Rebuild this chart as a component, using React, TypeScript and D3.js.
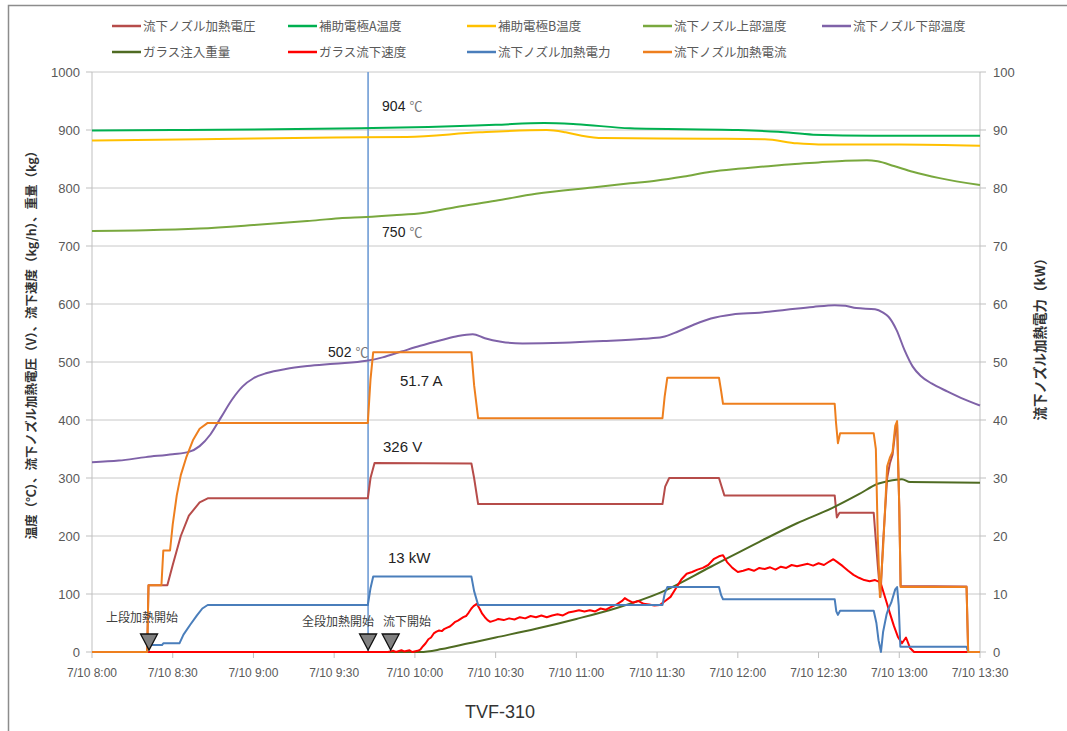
import React from "react";
import * as d3 from "d3";

// ---- data (minutes after 7/10 8:00, value) ----
const timeTickLabels = ["7/10 8:00", "7/10 8:30", "7/10 9:00", "7/10 9:30", "7/10 10:00", "7/10 10:30", "7/10 11:00", "7/10 11:30", "7/10 12:00", "7/10 12:30", "7/10 13:00", "7/10 13:30"];
const leftTicks = [0, 100, 200, 300, 400, 500, 600, 700, 800, 900, 1000];
const rightTicks = [0, 10, 20, 30, 40, 50, 60, 70, 80, 90, 100];

const voltage: [number, number][] = [[0,0],[20.5,0],[21,115],[28,115],[30,150],[33,200],[36,235],[40,258],[43,265],[102.5,265],[103.5,300],[105,326],[141,325],[142,300],[143.5,255],[212,255],[213,285],[214.5,300],[233,300],[234,285],[235,270],[276,270],[276.8,232],[277.8,240],[290.5,240],[292,150],[293,95],[294,190],[295.5,300],[296.5,325],[297.5,340],[298.5,380],[299.2,392],[300,250],[300.5,114],[325,113],[325.6,0],[330,0]];
const electrodeA: [number, number][] = [[0,899],[30,900],[60,901],[100,903],[125,905],[150,909],[168,912],[180,910],[200,903],[240,900],[255,897],[268,892],[290,890],[330,890]];
const electrodeB: [number, number][] = [[0,882],[40,884],[90,887],[117,888],[144,896],[169,900],[176,896],[182,890],[190,886],[230,885],[250,884],[262,877],[270,875],[300,875],[330,873]];
const upperTemp: [number, number][] = [[0,726],[20,727],[40,730],[60,736],[80,743],[92,748],[102,750],[112,753],[123,757],[135,767],[150,778],[165,790],[186,801],[200,808],[210,813],[220,820],[230,828],[240,833],[250,837],[260,841],[270,844],[280,847],[288,848],[292,846],[298,838],[305,828],[315,817],[330,805]];
const lowerTemp: [number, number][] = [[0,327],[10,330],[20,336],[30,341],[36,345],[40,355],[44,375],[48,405],[52,435],[56,458],[60,472],[65,481],[72,488],[80,493],[90,497],[102,502],[108,508],[115,518],[122,528],[130,538],[136,545],[141.5,548],[146,541],[152,535],[160,532],[175,533],[190,536],[205,540],[212,543],[218,553],[224,565],[230,575],[238,582],[248,585],[258,590],[268,595],[276,598],[280,597],[284,593],[291,591],[294,585],[296,578],[299,555],[302,520],[305,492],[308,476],[312,463],[318,449],[324,436],[330,425]];
const glassWeight: [number, number][] = [[0,0],[122,0],[130,5],[140,15],[150,25],[165,40],[180,57],[195,76],[211,102],[230,147],[248,190],[262,222],[275,248],[285,272],[292,290],[296,295],[301,298],[304,293],[330,292]];
const glassSpeed: [number, number][] = [[0,0],[110,0],[112,2],[113,0],[115,3],[116,1],[118,3],[119,0],[121,2],[122,4],[123,10],[124,15],[125,22],[126,25],[127,32],[128,35],[129,37],[130,36],[131,40],[132,42],[133,44],[134,48],[135,52],[136,54],[137,57],[138,60],[139,62],[140,68],[141,75],[141.8,79],[143,83],[144,75],[145,66],[146,60],[147,55],[148,52],[150,55],[151,57],[153,55],[155,58],[157,56],[159,60],[161,58],[163,62],[165,60],[167,63],[169,60],[171,63],[173,65],[175,63],[177,68],[179,70],[181,72],[183,70],[185,72],[187,70],[189,75],[191,73],[193,78],[195,82],[197,88],[198,93],[199,90],[201,85],[203,88],[205,83],[207,82],[209,80],[211,81],[213,88],[215,95],[217,110],[219,125],[221,135],[223,138],[225,142],[227,145],[229,150],[231,160],[233,165],[234.5,167],[236,155],[238,145],[240,138],[242,140],[244,143],[246,140],[248,145],[250,143],[252,146],[254,142],[256,147],[258,145],[260,150],[262,148],[264,150],[266,152],[268,149],[270,153],[272,150],[274,156],[275.5,160],[277,155],[279,148],[281,140],[283,133],[285,128],[287,124],[289,122],[291,124],[293,120],[295,90],[296.5,67],[298,45],[299.5,26],[301,15],[302.5,25],[304,7],[305.5,0],[330,0]];
const heaterPower: [number, number][] = [[0,0],[20.5,0],[21,1.2],[26,1.2],[26.5,1.5],[32.5,1.5],[34,3],[36.5,4.7],[39,6.3],[41,7.5],[43,8.1],[102.5,8.1],[103.5,11],[104.5,13],[141,13],[142,10.5],[143.5,8.1],[212,8.1],[212.8,10],[213.8,11.2],[233,11.2],[233.8,9.8],[234.5,9.1],[276,9.1],[276.6,7],[277.2,6.4],[278,7.1],[290.5,7.1],[291.5,5],[292.3,2],[293.2,0],[294,3.5],[295.3,6.5],[296,7.5],[297,8.5],[298.5,10.8],[299.2,11.2],[299.8,8],[300.4,0.9],[325,0.9],[325.6,0],[330,0]];
const heaterCurrent: [number, number][] = [[0,0],[20.5,0],[21,115],[25.8,115],[26.5,175],[29,175],[30,220],[31.5,270],[33,305],[35,335],[37.5,365],[40,385],[43,395],[102.5,395],[103.5,470],[104.5,517],[141,517],[142,460],[143.5,403],[212,403],[212.8,440],[213.8,473],[233,473],[233.8,450],[234.5,428],[276,428],[276.5,395],[277.2,360],[278,377],[290.5,377],[291.3,350],[292,200],[292.8,95],[294,180],[295.5,320],[296.5,335],[297.5,345],[298.5,390],[299.2,398],[300,250],[300.5,112],[325,112],[325.6,0],[330,0]];

const legendNames = ["流下ノズル加熱電圧", "補助電極A温度", "補助電極B温度", "流下ノズル上部温度", "流下ノズル下部温度", "ガラス注入重量", "ガラス流下速度", "流下ノズル加熱電力", "流下ノズル加熱電流"];
const markerTimes = [21.2, 102.6, 111];
const markerLabels = ["上段加熱開始", "全段加熱開始", "流下開始"];
const cursorTime = 102.6;

const COLORS = ["#B64C4A", "#00B050", "#FFC000", "#79A83E", "#7F62A8", "#4F6B22", "#FF0000", "#4A7EBB", "#EE7F1E"];

const W = 1067, H = 731;
const PL = 92, PR = 980, PT = 72, PB = 652;

export default function App() {
  const x = d3.scaleLinear().domain([0, 330]).range([PL, PR]);
  const yL = d3.scaleLinear().domain([0, 1000]).range([PB, PT]);
  const yR = d3.scaleLinear().domain([0, 100]).range([PB, PT]);
  const lin = (ys: d3.ScaleLinear<number, number>) => d3.line<[number, number]>().x(d => x(d[0])).y(d => ys(d[1]));
  const smooth = (ys: d3.ScaleLinear<number, number>) => d3.line<[number, number]>().x(d => x(d[0])).y(d => ys(d[1])).curve(d3.curveMonotoneX);

  const series = [
    { d: lin(yL)(voltage), c: COLORS[0] },
    { d: smooth(yL)(electrodeA), c: COLORS[1] },
    { d: smooth(yL)(electrodeB), c: COLORS[2] },
    { d: smooth(yL)(upperTemp), c: COLORS[3] },
    { d: smooth(yL)(lowerTemp), c: COLORS[4] },
    { d: smooth(yL)(glassWeight), c: COLORS[5] },
    { d: lin(yL)(glassSpeed), c: COLORS[6] },
    { d: lin(yR)(heaterPower), c: COLORS[7] },
    { d: lin(yL)(heaterCurrent), c: COLORS[8] },
  ];

  const legendX = [112, 288, 467, 643, 822];
  const legendY = [26, 52];
  const num = "'Liberation Sans', Arial, sans-serif";
  const jp = "'Noto Sans CJK JP', sans-serif";
  const ann = (t: number, v: number, dx: number, dy: number, a: string, u: string) => (
    <text x={x(t) + dx} y={yL(v) + dy} fontFamily={num} fontSize={14} fill="#222">
      {a}<tspan fill="#777" fontSize={13} fontFamily={jp} dx={4}>{u}</tspan>
    </text>
  );

  return (
    <svg width={W} height={H} style={{ position: "absolute", left: 0, top: 0, background: "#fff" }}>
      <rect x={8.5} y={5.5} width={1100} height={800} fill="#fff" stroke="#8c8c8c" strokeWidth={1.5} />
      {/* legend */}
      {legendNames.map((n, i) => {
        const lx = legendX[i % 5], ly = legendY[Math.floor(i / 5)];
        return (
          <g key={n}>
            <line x1={lx} x2={lx + 29} y1={ly} y2={ly} stroke={COLORS[i]} strokeWidth={2.5} />
            <text x={lx + 31} y={ly + 4.5} fontFamily={jp} fontSize={12.5} fill="#595959">{n}</text>
          </g>
        );
      })}
      {/* gridlines */}
      {leftTicks.slice(1).map(t => (
        <line key={t} x1={PL} x2={PR} y1={yL(t)} y2={yL(t)} stroke="#c8c8c8" strokeWidth={1} />
      ))}
      {/* axes */}
      <line x1={PL} x2={PL} y1={PT} y2={PB} stroke="#bfbfbf" />
      <line x1={PR} x2={PR} y1={PT} y2={PB} stroke="#bfbfbf" />
      <line x1={PL} x2={PR} y1={PB} y2={PB} stroke="#bfbfbf" />
      {leftTicks.map(t => (
        <g key={"l" + t}>
          <line x1={PL - 6} x2={PL} y1={yL(t)} y2={yL(t)} stroke="#bfbfbf" />
          <text x={80} y={yL(t) + 4.5} textAnchor="end" fontFamily={num} fontSize={13} fill="#595959">{t}</text>
        </g>
      ))}
      {rightTicks.map(t => (
        <g key={"r" + t}>
          <line x1={PR} x2={PR + 6} y1={yR(t)} y2={yR(t)} stroke="#bfbfbf" />
          <text x={993} y={yR(t) + 4.5} textAnchor="start" fontFamily={num} fontSize={13} fill="#595959">{t}</text>
        </g>
      ))}
      {timeTickLabels.map((l, i) => (
        <g key={l}>
          <line x1={x(i * 30)} x2={x(i * 30)} y1={PB} y2={PB + 6} stroke="#bfbfbf" />
          <text x={x(i * 30)} y={677} textAnchor="middle" fontFamily={num} fontSize={12} fill="#595959">{l}</text>
        </g>
      ))}
      {/* axis titles */}
      <text transform={`translate(36,342) rotate(-90)`} textAnchor="middle" fontFamily={jp} fontSize={12.5} fontWeight="bold" fill="#333">温度（℃）、流下ノズル加熱電圧（V）、流下速度（kg/h）、重量（kg）</text>
      <text transform={`translate(1045,336) rotate(-90)`} textAnchor="middle" fontFamily={jp} fontSize={13.5} fontWeight="bold" fill="#333">流下ノズル加熱電力（kW）</text>
      <text x={500} y={718} textAnchor="middle" fontFamily={num} fontSize={18} fill="#333">TVF-310</text>
      {/* cursor line */}
      <line x1={x(cursorTime)} x2={x(cursorTime)} y1={PT} y2={PB} stroke="#7FA7DA" strokeWidth={1.8} />
      {/* series */}
      {series.map((s, i) => (
        <path key={i} d={s.d || ""} fill="none" stroke={s.c} strokeWidth={2} strokeLinejoin="round" />
      ))}
      {/* markers */}
      {markerTimes.map((t, i) => (
        <g key={"m" + i}>
          <path d={`M${x(t) - 8.5},${634} L${x(t) + 8.5},${634} L${x(t)},${650} Z`} fill="#808080" stroke="#111" strokeWidth={1.3} />
        </g>
      ))}
      <text x={142} y={622} textAnchor="middle" fontFamily={jp} fontSize={12} fill="#404040">{markerLabels[0]}</text>
      <text x={338} y={626} textAnchor="middle" fontFamily={jp} fontSize={12} fill="#404040">{markerLabels[1]}</text>
      <text x={407} y={626} textAnchor="middle" fontFamily={jp} fontSize={12} fill="#404040">{markerLabels[2]}</text>
      {/* annotations */}
      {ann(cursorTime, 904, 14, -17, "904", "℃")}
      {ann(cursorTime, 750, 14, 20, "750", "℃")}
      {ann(cursorTime, 502, -40, -4, "502", "℃")}
      <text x={400} y={386} fontFamily={num} fontSize={15} fill="#222">51.7 A</text>
      <text x={383} y={452} fontFamily={num} fontSize={15} fill="#222">326 V</text>
      <text x={388} y={563} fontFamily={num} fontSize={15} fill="#222">13 kW</text>
    </svg>
  );
}
